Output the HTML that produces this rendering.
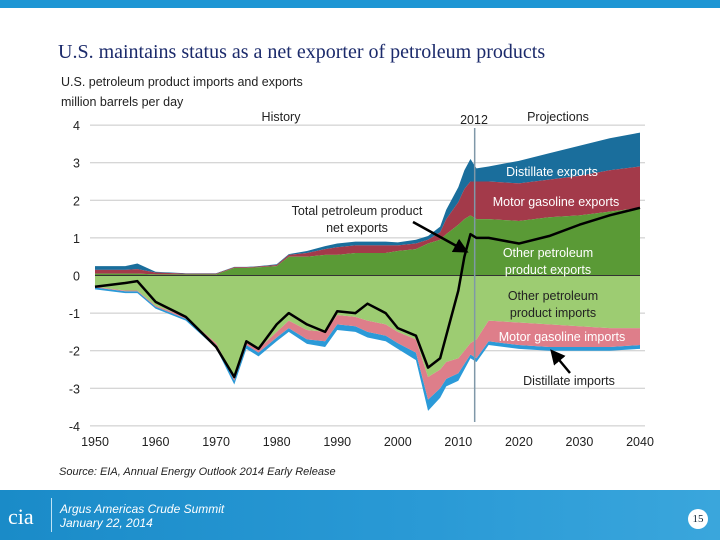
<!DOCTYPE html>
<html><head><meta charset="utf-8"><style>
body{margin:0;width:720px;height:540px;background:#fff;position:relative;overflow:hidden;font-family:"Liberation Sans",sans-serif}
.t{position:absolute;white-space:nowrap}
</style></head><body>
<div style="position:absolute;left:0;top:0;width:720px;height:8px;background:#1e96d4"></div>
<div class="t" style="left:58px;top:41px;font-family:'Liberation Serif',serif;font-size:20px;color:#1b2a6b">U.S. maintains status as a net exporter of petroleum products</div>
<div class="t" style="left:61px;top:72px;font-size:12.5px;color:#222;line-height:20px">U.S. petroleum product imports and exports<br>million barrels per day</div>
<svg id="c" width="720" height="540" style="position:absolute;left:0;top:0"></svg>
<div class="t" style="left:59px;top:466px;font-size:11px;font-style:italic;color:#222">Source:  EIA, Annual Energy Outlook 2014 Early Release</div>
<div style="position:absolute;left:0;top:490px;width:720px;height:50px;background:linear-gradient(90deg,#1a8bc8,#2a9ad6 60%,#3aa6dc)">
<div class="t" style="left:8px;top:14px;font-size:22px;color:#fff;font-family:'Liberation Serif',serif">cia</div>
<div style="position:absolute;left:51px;top:8px;width:1px;height:34px;background:#bfe3f5"></div>
<div class="t" style="left:60px;top:12px;font-size:12px;font-style:italic;color:#fff;line-height:14px">Argus Americas Crude Summit<br>January 22, 2014</div>
<div class="t" style="left:688px;top:19px;width:20px;height:20px;border-radius:50%;background:#fff;color:#123;font-size:11px;text-align:center;line-height:20px;font-family:'Liberation Serif',serif">15</div>
</div>
<script>
const years=[1950,1955,1957,1960,1965,1970,1973,1975,1977,1980,1982,1985,1988,1990,1993,1995,1998,2000,2003,2005,2007,2008,2010,2011,2012,2013,2015,2020,2025,2030,2035,2040];
const otherExports=[.05,.05,.05,.03,.03,.03,.2,.2,.22,.25,.5,.5,.55,.55,.6,.6,.6,.65,.7,.85,.95,1.1,1.35,1.5,1.6,1.5,1.5,1.45,1.55,1.6,1.7,1.8];
const gasExports=[.1,.1,.12,.05,.02,.02,.02,.02,.02,.03,.05,.1,.15,.2,.2,.2,.2,.15,.15,.1,.2,.4,.6,.8,.9,1.0,1.0,1.0,1.0,1.05,1.1,1.1];
const distExports=[.1,.1,.15,.02,.01,.01,.01,.01,.01,.02,.02,.05,.08,.1,.1,.1,.1,.08,.1,.1,.15,.25,.4,.5,.6,.35,.4,.6,.7,.8,.85,.9];
const otherImports=[-.3,-.4,-.4,-.8,-1.1,-1.8,-2.7,-1.75,-1.95,-1.5,-1.2,-1.45,-1.5,-1.05,-1.1,-1.2,-1.3,-1.5,-1.7,-2.7,-2.5,-2.3,-2.2,-2.0,-1.8,-1.7,-1.2,-1.25,-1.3,-1.35,-1.4,-1.4];
const gasImports=[-.02,-.02,-.02,-.03,-.05,-.05,-.1,-.1,-.1,-.15,-.2,-.25,-.25,-.25,-.25,-.3,-.3,-.3,-.35,-.6,-.5,-.45,-.4,-.35,-.3,-.5,-.55,-.6,-.6,-.55,-.5,-.45];
const distImports=[-.05,-.05,-.05,-.05,-.05,-.08,-.1,-.1,-.1,-.1,-.1,-.12,-.15,-.15,-.15,-.15,-.15,-.15,-.2,-.3,-.25,-.2,-.2,-.15,-.1,-.1,-.1,-.1,-.1,-.1,-.1,-.1];
const netExports=[-.3,-.2,-.15,-.7,-1.1,-1.9,-2.7,-1.75,-1.95,-1.3,-1.0,-1.3,-1.5,-.95,-1.0,-.75,-1.0,-1.4,-1.6,-2.45,-2.2,-1.6,-.4,.5,1.1,1.0,1.0,.85,1.05,1.35,1.6,1.8];
const yTicks=[4,3,2,1,0,-1,-2,-3,-4];
const xTicks=[1950,1960,1970,1980,1990,2000,2010,2020,2030,2040];
const X=y=>95+(y-1950)*(545/90);
const Y=v=>275.5-v*37.6;
const svg=document.getElementById('c');const NS='http://www.w3.org/2000/svg';
function mk(t,a){const e=document.createElementNS(NS,t);for(const k in a)e.setAttribute(k,a[k]);svg.appendChild(e);return e;}
yTicks.forEach(v=>{if(v!==0){const g=mk('line',{x1:X(1950)-5,x2:X(2040)+5,y1:Y(v),y2:Y(v),stroke:'#c8c8c8','stroke-width':1});

}
const t=mk('text',{x:80,y:Y(v)+5,'text-anchor':'end','font-size':12.5,fill:'#222'});t.textContent=v;

});
xTicks.forEach(v=>{const t=mk('text',{x:X(v),y:446,'text-anchor':'middle','font-size':12.5,fill:'#222'});t.textContent=v;

});
function band(lo,hi,col,name){let d='';years.forEach((yr,i)=>{d+=(i?'L':'M')+X(yr)+' '+Y(hi[i]);});
for(let i=years.length-1;i>=0;i--)d+='L'+X(years[i])+' '+Y(lo[i]);
const p=mk('path',{d:d+'Z',fill:col});

}
const z=years.map(()=>0);
const e1=otherExports,e2=e1.map((v,i)=>v+gasExports[i]),e3=e2.map((v,i)=>v+distExports[i]);
const i1=otherImports,i2=i1.map((v,i)=>v+gasImports[i]),i3=i2.map((v,i)=>v+distImports[i]);
band(e2,e3,'#1a6e9c','distillate-exports-area');
band(e1,e2,'#a33a4a','gasoline-exports-area');
band(z,e1,'#5a9a36','other-exports-area');
band(i2,i3,'#2b9ad8','distillate-imports-area');
band(i1,i2,'#de7e8a','gasoline-imports-area');
band(i1,z,'#9dcc72','other-imports-area');
const zl=mk('line',{x1:X(1950),x2:X(2040),y1:Y(0),y2:Y(0),stroke:'#333','stroke-width':1});


const vl=mk('line',{x1:X(2012.7),x2:X(2012.7),y1:128,y2:422,stroke:'#7f98a8','stroke-width':1.5});


const nl=mk('polyline',{points:years.map((yr,i)=>X(yr)+','+Y(netExports[i])).join(' '),fill:'none',stroke:'#000','stroke-width':2.5,'stroke-linejoin':'round'});


function lbl(x,y,s,c,name,anch){const t=mk('text',{x:x,y:y,'font-size':12.5,fill:c,'text-anchor':anch||'middle'});t.textContent=s;

}
lbl(281,121,'History','#222','history-label');lbl(474,124,'2012','#222','year-2012-label');lbl(558,121,'Projections','#222','projections-label');
lbl(552,176,'Distillate exports','#fff','distillate-exports-label');
lbl(556,206,'Motor gasoline exports','#fff','gasoline-exports-label');
lbl(548,257,'Other petroleum','#fff','other-exports-label');lbl(548,274,'product exports','#fff','other-exports-label-2');
lbl(553,300,'Other petroleum','#222','other-imports-label');lbl(553,317,'product imports','#222','other-imports-label-2');
lbl(562,341,'Motor gasoline imports','#fff','gasoline-imports-label');
lbl(569,385,'Distillate imports','#222','distillate-imports-label');
lbl(357,215,'Total petroleum product','#222','net-exports-label');lbl(357,232,'net exports','#222','net-exports-label-2');
mk('defs',{}).innerHTML='<marker id="ah" markerWidth="6" markerHeight="6" refX="3" refY="3" orient="auto"><path d="M0,0L6,3L0,6Z" fill="#000"/></marker>';
const a1=mk('line',{x1:413,x2:462,y1:222,y2:249,stroke:'#000','stroke-width':2.5,'marker-end':'url(#ah)'});


const a2=mk('line',{x1:570,x2:555,y1:373,y2:355,stroke:'#000','stroke-width':2.5,'marker-end':'url(#ah)'});


</script>
</body></html>
